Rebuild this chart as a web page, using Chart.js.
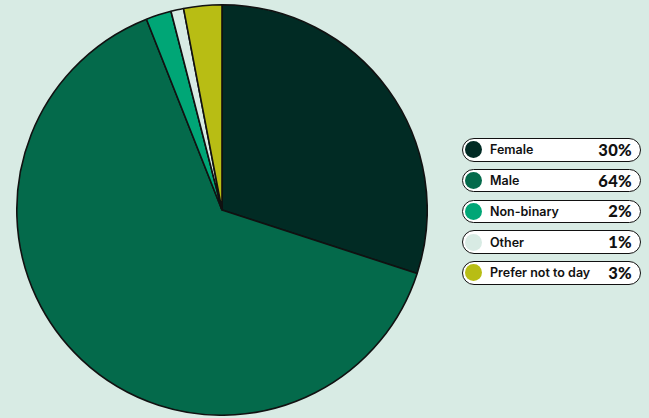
<!DOCTYPE html>
<html>
<head>
<meta charset="utf-8">
<script src="https://cdn.jsdelivr.net/npm/chart.js@4"></script>
<style>
  html, body { margin: 0; padding: 0; }
  body { width: 649px; height: 418px; background: #d8ebe4; position: relative; overflow: hidden; font-family: Inter, "Noto Sans", sans-serif; }
  #pieWrap { position: absolute; left: 16px; top: 4px; width: 412px; height: 412px; }
  #legend { position: absolute; left: 462px; top: 138px; width: 179px; }
  .item { box-sizing: border-box; height: 23.5px; margin-bottom: 7.3px; border: 1.4px solid #111; border-radius: 12px; background: #fff; display: flex; align-items: center; padding: 0 8px 0 2px; }
  .dot { width: 17px; height: 17px; border-radius: 50%; flex: none; }
  .lab { margin-left: 8px; font-size: 12.5px; font-weight: 600; color: #111; flex: 1; }
  .pct { font-family: Lato, Inter, sans-serif; font-size: 16.5px; font-weight: 900; color: #111; letter-spacing: 0.3px; }
</style>
</head>
<body>
<div id="pieWrap"><canvas id="pie"></canvas></div>
<div id="legend"></div>
<script>
// Share of respondents by gender
const categories = ['Female', 'Male', 'Non-binary', 'Other', 'Prefer not to day'];
const shares = [30, 64, 2, 1, 3];
const sliceColors = ['#012b24', '#046a4b', '#00a676', '#d8ebe4', '#b8bd14'];

new Chart(document.getElementById('pie'), {
  type: 'pie',
  data: {
    labels: categories,
    datasets: [{
      data: shares,
      backgroundColor: sliceColors,
      borderColor: '#111',
      borderWidth: 1.6
    }]
  },
  options: {
    responsive: true,
    maintainAspectRatio: false,
    animation: false,
    layout: { padding: 0 },
    plugins: { legend: { display: false }, tooltip: { enabled: false } }
  }
});

// Pill legend beside the pie
const legend = document.getElementById('legend');
categories.forEach((name, i) => {
  const row = document.createElement('div');
  row.className = 'item';
  const dot = document.createElement('span');
  dot.className = 'dot';
  dot.style.background = sliceColors[i];
  const lab = document.createElement('span');
  lab.className = 'lab';
  lab.textContent = name;
  const pct = document.createElement('span');
  pct.className = 'pct';
  pct.textContent = shares[i] + '%';
  row.append(dot, lab, pct);
  legend.appendChild(row);
});
</script>
</body>
</html>
